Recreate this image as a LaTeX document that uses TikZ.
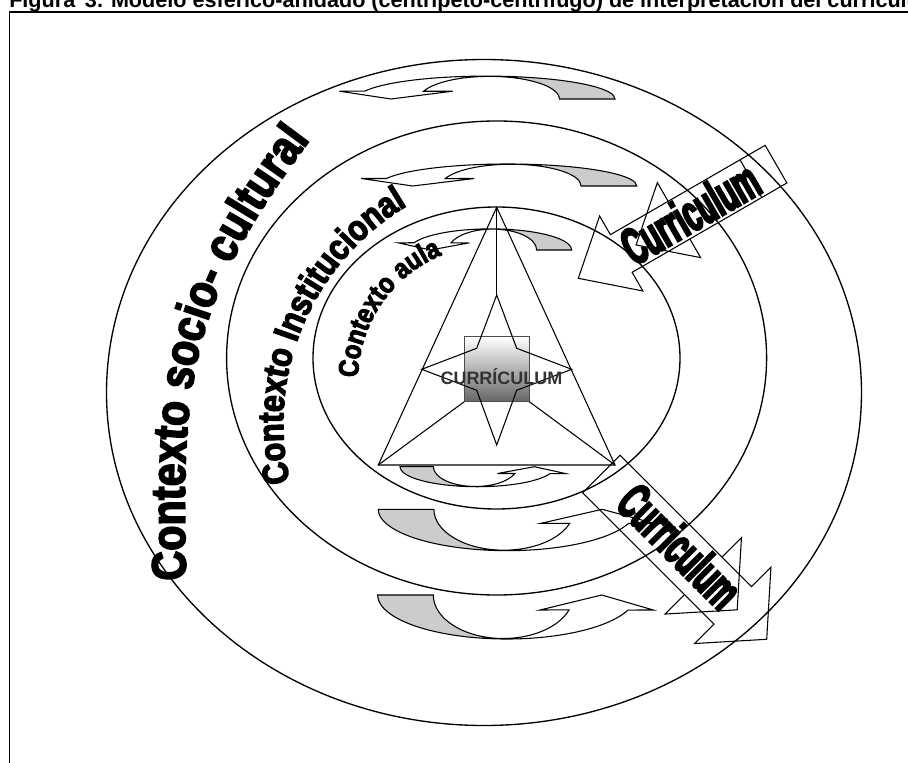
\documentclass[tikz,border=0pt]{standalone}
\usepackage{fontspec}
\setmainfont{Liberation Sans}
\newfontfamily\ctxfont{Liberation Sans}[BoldFeatures={FakeBold=3.5,FakeStretch=0.85}]
\newfontfamily\currfont{Liberation Sans}[BoldFeatures={FakeBold=4,FakeStretch=0.54}]
\usetikzlibrary{decorations.text}
\definecolor{lgray}{RGB}{204,204,204}
\tikzset{
  ring/.style={line width=1pt},
  figline/.style={line width=0.8pt, line join=miter},
  framel/.style={line width=1.1pt},
}
\newcommand\curvarr[5]{%
  \begin{scope}[shift={(#1,#2)}, rotate=#5, xscale=#3, yscale=#4]
    \fill[lgray] (-129,0) -- (-73.4,0) arc[start angle=180,end angle=90,x radius=70,y radius=43.5]
      -- (0,44) arc[start angle=90,end angle=180,x radius=129,y radius=44] -- cycle;
    \fill[white] (-3.4,43.5) arc[start angle=90,end angle=20,x radius=70,y radius=43.5]
      -- (33.3,15) -- (95,0) -- (146.6,15) -- (121.2,15.05)
      arc[start angle=20,end angle=90,x radius=129,y radius=44] -- cycle;
    \draw[figline] (-129,0) -- (-73.4,0) arc[start angle=180,end angle=20,x radius=70,y radius=43.5]
      -- (33.3,15) -- (95,0) -- (146.6,15) -- (121.2,15.05)
      arc[start angle=20,end angle=180,x radius=129,y radius=44] -- cycle;
  \end{scope}}
\begin{document}
\begin{tikzpicture}[x=0.75pt,y=-0.75pt]
\useasboundingbox (0,0) rectangle (908,763);
\clip (0,0) rectangle (908,763);
\fill[white] (0,0) rectangle (908,763);
% title and frame
\node[anchor=base west, inner sep=0pt, font=\bfseries\fontsize{16.2}{18}\selectfont] (title) at (9,7.5)
  {Figura\hspace{0.45em}3. Modelo esférico-anidado (centrípeto-centrífugo) de interpretación del currículum};
\draw[framel] (9.3,800) -- (9.3,11.9) -- (950,11.9);
% rings
\draw[ring] (484,392.5) ellipse [x radius=377.5, y radius=333];
\draw[ring] (496.6,358) ellipse [x radius=270, y radius=237];
\draw[ring] (496.5,358) ellipse [x radius=183.5, y radius=151];
% curved arrows
\curvarr{486}{99}{1}{0.52}{180}
\curvarr{507.7}{186}{1}{0.5}{180}
\curvarr{490.4}{250}{0.63}{0.48}{180}
\curvarr{477.4}{466.7}{0.6}{0.455}{0}
\curvarr{507.3}{509.3}{1}{0.94}{0}
\curvarr{506.7}{595}{1}{1}{0}
% triangle, star, square
\coordinate (apex) at (496.7,207.3);
\coordinate (bl) at (378.3,465);
\coordinate (br) at (615,465);
\coordinate (st) at (496.7,295);
\coordinate (sqbl) at (464.3,401.7);
\coordinate (sqbr) at (529.3,401.7);
\draw[figline] (apex) -- (bl) -- (br) -- cycle;
\draw[figline] (apex) -- (st);
\shadedraw[top color=white, bottom color=black!60, draw=black!70, line width=0.8pt] (464.3,336.7) rectangle (529.3,401.7);
\draw[figline] (st) -- (516.7,348.3) -- (571.7,369.3) -- (516.7,390.3) -- (496.7,445)
  -- (476.7,390.3) -- (421.7,369.3) -- (476.7,348.3) -- cycle;
\draw[figline] (bl) -- (sqbl);
\draw[figline] (br) -- (sqbr);
\node[anchor=base, inner sep=0pt, text=black!80, font=\bfseries\fontsize{13.5}{14}\selectfont] (cur) at (501.5,385) {CURRÍCULUM};
% curved context labels
\path[decorate, decoration={text along path, text align=fit to path,
  text={|\ctxfont\bfseries\fontsize{36}{36}\selectfont|Contexto socio- cultural}}]
  (186,580) .. controls (180,380) and (190,300) .. (310,140);
\path[decorate, decoration={text along path, text align=left,
  text={|\ctxfont\bfseries\fontsize{27}{27}\selectfont|Contexto Institucional}}]
  ([shift={(166.7:253.5 and 253.5)}]536.7,423.7) arc[start angle=166.7, end angle=268, x radius=253.5, y radius=253.5];
\path[decorate, decoration={text along path, text align=left,
  text={|\ctxfont\bfseries\fontsize{21}{21}\selectfont|Contexto aula}}]
  ([shift={(181:135 and 135)}]493,380) arc[start angle=181, end angle=275, x radius=135, y radius=135];
% Curriculum block arrows
\begin{scope}[shift={(578.3,278.3)}, rotate=30]
  \draw[figline] (0,0) -- (49.6,-43.3) -- (49.6,-21.75) -- (228.3,-21.75) -- (228.3,21.75)
    -- (49.6,21.75) -- (49.6,43.3) -- cycle;
  \draw[figline] (116.3,-21.75) -- (116.3,-43.3) -- (66.7,0) -- (116.3,43.3) -- (116.3,21.75);
  \draw[figline] (199.3,-21.75) -- (199.3,21.75);
\end{scope}
\begin{scope}[shift={(766.7,639.3)}, rotate=135]
  \draw[figline] (0,0) -- (48,-54) -- (48,-26.5) -- (233.8,-26.5) -- (233.8,26.5)
    -- (48,26.5) -- (48,54) -- cycle;
  \draw[figline] (89.7,-26.5) -- (89.7,-54) -- (41.7,0) -- (89.7,54) -- (89.7,26.5);
\end{scope}
\node[rotate=30, inner sep=0pt, font=\currfont\bfseries\fontsize{39}{39}\selectfont] (cu1) at (690,213) {Curriculum};
\node[rotate=-45, inner sep=0pt, font=\currfont\bfseries\fontsize{39}{39}\selectfont] (cu2) at (680,546) {Curriculum};
\end{tikzpicture}
\end{document}
